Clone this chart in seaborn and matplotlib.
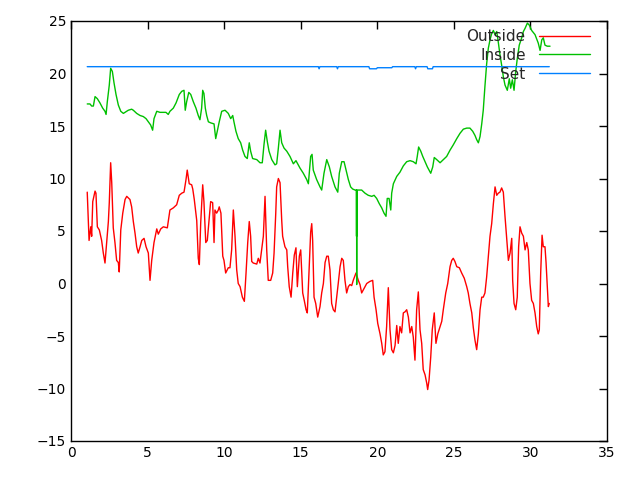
import numpy as np
import pandas as pd
import seaborn as sns
import matplotlib
matplotlib.use("Agg")
import matplotlib.pyplot as plt

# Outside temperature (red)
outside_x = [1.06, 1.18, 1.29, 1.35, 1.42, 1.57, 1.63, 1.72, 1.85, 2.00, 2.11, 2.22, 2.33, 2.44, 2.50,
             2.59, 2.66, 2.76, 2.87, 2.98, 3.09, 3.15, 3.25, 3.38, 3.53, 3.64, 3.85, 3.96, 4.07, 4.18,
             4.29, 4.39, 4.51, 4.62, 4.77, 4.90, 5.05, 5.16, 5.27, 5.42, 5.60, 5.70, 5.86, 6.03, 6.29,
             6.46, 6.68, 6.90, 7.07, 7.23, 7.38, 7.51, 7.59, 7.72, 7.88, 7.95, 8.05, 8.21, 8.31, 8.38,
             8.47, 8.60, 8.68, 8.80, 8.90, 9.01, 9.12, 9.25, 9.34, 9.40, 9.51, 9.62, 9.68, 9.79, 9.91,
             9.99, 10.10, 10.27, 10.38, 10.49, 10.60, 10.71, 10.82, 10.92, 11.04, 11.19, 11.32, 11.43,
             11.54, 11.64, 11.73, 11.80, 11.90, 12.13, 12.23, 12.34, 12.45, 12.56, 12.67, 12.78, 12.88,
             13.04, 13.17, 13.26, 13.37, 13.43, 13.54, 13.65, 13.76, 13.82, 13.97, 14.09, 14.15, 14.25,
             14.37, 14.48, 14.58, 14.69, 14.78, 14.91, 15.00, 15.13, 15.23, 15.35, 15.43, 15.54, 15.65,
             15.72, 15.78, 15.87, 15.98, 16.11, 16.26, 16.37, 16.48, 16.59, 16.70, 16.80, 16.91, 17.02,
             17.13, 17.24, 17.35, 17.45, 17.57, 17.68, 17.78, 17.89, 18.00, 18.11, 18.22, 18.33, 18.43,
             18.61, 18.76, 18.87, 18.98, 19.09, 19.20, 19.31, 19.52, 19.70, 19.79, 19.92, 20.03, 20.18,
             20.29, 20.39, 20.50, 20.61, 20.72, 20.83, 20.94, 21.05, 21.16, 21.27, 21.37, 21.48, 21.59,
             21.70, 21.81, 21.92, 22.03, 22.14, 22.25, 22.35, 22.46, 22.57, 22.68, 22.79, 22.90, 23.00,
             23.12, 23.23, 23.29, 23.38, 23.49, 23.59, 23.72, 23.83, 23.95, 24.10, 24.21, 24.31, 24.47,
             24.60, 24.75, 24.86, 24.96, 25.07, 25.19, 25.36, 25.51, 25.68, 25.84, 25.94, 26.05, 26.17,
             26.27, 26.38, 26.49, 26.60, 26.71, 26.82, 26.92, 27.03, 27.14, 27.25, 27.36, 27.47, 27.58,
             27.69, 27.80, 27.90, 28.01, 28.12, 28.23, 28.34, 28.45, 28.56, 28.67, 28.78, 28.84, 28.93,
             29.04, 29.14, 29.23, 29.32, 29.43, 29.54, 29.65, 29.76, 29.86, 29.97, 30.08, 30.19, 30.30,
             30.41, 30.51, 30.58, 30.67, 30.76, 30.84, 30.95, 31.02, 31.10, 31.17, 31.23]
outside_y = [8.7, 4.1, 5.4, 4.5, 7.8, 8.8, 8.6, 5.4, 5.1, 4.1, 2.9, 1.95, 3.9, 5.9, 7.7,
             11.5, 9.6, 5.3, 3.9, 2.2, 2.0, 1.1, 5.1, 6.7, 8.0, 8.3, 8.0, 7.3, 5.9, 4.8,
             3.5, 2.9, 3.5, 4.1, 4.3, 3.5, 2.9, 0.3, 2.2, 3.9, 5.2, 4.7, 5.2, 5.4, 5.3,
             7.0, 7.2, 7.5, 8.4, 8.6, 8.7, 9.9, 10.8, 9.5, 9.4, 9.0, 8.0, 6.0, 2.4, 1.8,
             5.8, 9.4, 7.8, 3.9, 4.1, 6.0, 7.8, 7.7, 3.9, 7.0, 6.7, 7.0, 7.3, 6.7, 2.6,
             2.2, 1.0, 1.5, 1.5, 3.2, 7.0, 4.5, 1.3, 0.0, -0.3, -1.3, -1.7, 1.0,
             3.9, 5.9, 4.5, 2.1, 1.95, 1.85, 2.4, 1.95, 3.2, 4.5, 8.3, 3.2, 0.3,
             0.3, 1.0, 2.9, 6.7, 9.2, 10.0, 9.6, 6.0, 4.5, 3.5, 3.2, 1.6, -0.3,
             -1.3, 1.0, 2.7, 3.4, -0.3, 2.6, 3.2, -0.9, -1.6, -2.5, -2.8, 1.0, 4.9,
             5.7, 4.1, -1.3, -1.9, -3.2, -2.2, -0.9, 0.0, 2.0, 2.6, 2.6, 1.3, -1.9,
             -2.5, -2.7, -1.3, 0.0, 1.6, 2.4, 2.2, 0.3, -0.9, -0.3, -0.1, -0.2, 0.3,
             1.0, 0.3, -0.1, -0.9, -0.6, -0.3, 0.0, 0.2, 0.3, -1.3, -2.5, -3.8, -4.8,
             -5.7, -6.8, -6.5, -4.1, -0.4, -4.4, -6.3, -6.6, -5.9, -4.0, -5.7, -4.1, -4.7,
             -2.8, -2.7, -2.5, -3.2, -4.7, -4.1, -5.1, -7.3, -2.5, -0.8, -4.4, -5.7, -8.2,
             -8.7, -9.5, -10.1, -9.2, -7.0, -4.4, -2.8, -5.7, -4.8, -4.1, -3.6, -2.5, -0.9,
             0.0, 1.6, 2.2, 2.4, 2.1, 1.6, 1.5, 1.0, 0.5, -0.3, -0.9, -1.9, -2.8,
             -4.2, -5.4, -6.3, -4.8, -2.5, -1.3, -1.3, -0.9, 0.6, 2.6, 4.5, 5.7, 7.6,
             9.2, 8.4, 8.6, 8.7, 9.1, 8.7, 6.4, 4.3, 2.2, 2.9, 4.3, 0.3, -1.9,
             -2.5, -1.3, 3.5, 5.4, 4.8, 4.5, 3.2, 3.9, 3.2, 0.0, -1.6, -1.9, -2.8,
             -4.1, -4.8, -4.4, 1.0, 4.6, 3.5, 3.5, 2.0, -0.3, -2.2, -1.9]

# Inside temperature (green)
inside_x = [1.06, 1.24, 1.35, 1.46, 1.57, 1.72, 1.89, 2.07, 2.22, 2.29, 2.37, 2.50, 2.59, 2.70, 2.81,
            2.94, 3.09, 3.25, 3.42, 3.64, 3.74, 3.96, 4.07, 4.29, 4.51, 4.72, 4.90, 5.05, 5.20, 5.33,
            5.42, 5.60, 5.81, 6.03, 6.20, 6.35, 6.46, 6.68, 6.86, 7.07, 7.23, 7.38, 7.46, 7.55, 7.69,
            7.82, 7.99, 8.16, 8.31, 8.42, 8.53, 8.60, 8.68, 8.77, 8.86, 8.97, 9.12, 9.34, 9.45, 9.55,
            9.68, 9.84, 10.06, 10.27, 10.43, 10.56, 10.64, 10.77, 10.92, 11.08, 11.21, 11.36, 11.51,
            11.64, 11.73, 11.86, 12.13, 12.34, 12.49, 12.60, 12.71, 12.82, 12.93, 13.11, 13.32, 13.43,
            13.54, 13.65, 13.76, 13.91, 14.09, 14.30, 14.52, 14.69, 14.80, 14.95, 15.17, 15.39, 15.50,
            15.65, 15.74, 15.82, 16.04, 16.26, 16.37, 16.52, 16.70, 16.87, 17.02, 17.24, 17.42, 17.52,
            17.68, 17.83, 17.96, 18.11, 18.26, 18.39, 18.55, 18.64, 18.645, 18.65, 18.655, 18.66, 18.76,
            18.98, 19.20, 19.41, 19.64, 19.79, 19.96, 20.13, 20.29, 20.44, 20.57, 20.65, 20.77, 20.88,
            20.94, 21.05, 21.27, 21.48, 21.70, 21.92, 22.14, 22.35, 22.53, 22.61, 22.70, 22.84, 22.97,
            23.12, 23.27, 23.49, 23.62, 23.72, 23.88, 24.10, 24.31, 24.53, 24.75, 24.96, 25.19, 25.40,
            25.62, 25.84, 26.05, 26.23, 26.38, 26.49, 26.60, 26.71, 26.82, 26.92, 27.03, 27.14, 27.25,
            27.36, 27.47, 27.58, 27.69, 27.80, 27.90, 28.01, 28.12, 28.23, 28.34, 28.49, 28.62, 28.71,
            28.82, 28.93, 29.04, 29.14, 29.27, 29.43, 29.54, 29.65, 29.80, 29.93, 30.08, 30.30, 30.51,
            30.63, 30.74, 30.84, 30.95, 31.10, 31.28]
inside_y = [17.1, 17.1, 16.9, 16.9, 17.8, 17.6, 17.2, 16.7, 16.4, 16.1, 17.3, 18.9, 20.5, 20.2, 19.1,
            18.0, 17.0, 16.4, 16.2, 16.4, 16.5, 16.6, 16.5, 16.2, 16.0, 15.9, 15.7, 15.4, 15.1, 14.6,
            15.7, 16.4, 16.3, 16.3, 16.3, 16.1, 16.4, 16.7, 17.2, 18.0, 18.3, 18.4, 16.5, 17.3, 18.2,
            18.0, 17.3, 16.7, 16.0, 15.6, 16.7, 18.4, 18.1, 16.7, 16.0, 15.4, 15.3, 15.2, 13.8, 14.5,
            15.4, 16.4, 16.5, 16.2, 15.7, 16.0, 15.4, 14.5, 13.8, 13.4, 12.7, 12.1, 11.9,
            13.4, 12.6, 11.9, 11.8, 11.5, 11.5, 13.2, 14.6, 13.5, 12.6, 11.8, 11.3, 11.4,
            12.9, 14.6, 13.4, 12.9, 12.6, 12.1, 11.4, 11.7, 11.4, 11.0, 10.5, 9.9, 9.5,
            12.1, 12.3, 10.8, 9.9, 9.2, 8.9, 10.5, 11.8, 11.1, 10.2, 9.2, 8.7, 10.5,
            11.6, 11.6, 10.8, 9.9, 9.2, 9.0, 8.9, 8.9, 4.5, 8.9, -0.1, 8.9, 8.9,
            8.9, 8.6, 8.4, 8.3, 8.4, 8.1, 7.6, 7.2, 6.7, 6.4, 8.1, 8.1, 7.0,
            8.6, 9.5, 10.2, 10.6, 11.2, 11.6, 11.7, 11.6, 11.4, 12.1, 13.0, 12.6, 12.1,
            11.6, 11.1, 10.5, 11.1, 12.0, 11.8, 11.5, 11.8, 12.1, 12.7, 13.2, 13.8, 14.3,
            14.7, 14.8, 14.8, 14.5, 14.1, 13.7, 13.4, 14.0, 15.2, 16.5, 18.8, 20.9, 22.4,
            23.2, 23.8, 24.1, 23.7, 24.0, 23.0, 21.8, 20.8, 19.7, 18.9, 18.4, 19.5, 18.6,
            19.4, 18.4, 20.2, 21.4, 22.7, 23.4, 24.0, 24.3, 24.8, 24.6, 24.1, 23.7, 22.9,
            22.2, 23.2, 23.4, 22.7, 22.6, 22.6]

# Set point (blue)
set_x = [1.06, 16.15, 16.2, 16.25, 17.35, 17.4, 17.45, 19.45, 19.5, 19.95, 20.0, 20.95, 21.0,
         22.45, 22.5, 22.55, 23.25, 23.3, 23.6, 23.65, 31.23]
set_y = [20.65, 20.65, 20.45, 20.65, 20.65, 20.45, 20.65, 20.65, 20.45, 20.45, 20.55, 20.55, 20.65,
         20.65, 20.45, 20.65, 20.65, 20.45, 20.45, 20.65, 20.65]

sns.set_style("white")
plt.rcParams['font.family'] = ['DejaVu Sans']

fig = plt.figure(figsize=(6.4, 4.8), dpi=100)
ax = fig.add_axes([71 / 640, 1 - 441 / 480, 536 / 640, 420 / 480])

sns.lineplot(x=outside_x, y=outside_y, ax=ax, color='#ff0000', lw=1, sort=False,
             estimator=None, label='Outside')
sns.lineplot(x=inside_x, y=inside_y, ax=ax, color='#00c000', lw=1, sort=False,
             estimator=None, label='Inside')
sns.lineplot(x=set_x, y=set_y, ax=ax, color='#0080ff', lw=1, sort=False,
             estimator=None, label='Set')

ax.set_xlim(0, 35)
ax.set_ylim(-15, 25)
ax.set_xticks(range(0, 36, 5))
ax.set_yticks(range(-15, 26, 5))
ax.tick_params(direction='in', top=True, right=True, length=6, width=1,
               labelsize=10, colors='black')
for s in ax.spines.values():
    s.set_color('black')
    s.set_linewidth(1)

leg = ax.legend(loc='upper right', bbox_to_anchor=(0.985, 1.003), frameon=False,
                markerfirst=False, fontsize=11, handlelength=3.3, labelspacing=0.25,
                handletextpad=0.9, borderaxespad=0.2)
for t in leg.get_texts():
    t.set_ha('right')

fig.savefig('out.png', dpi=100)
